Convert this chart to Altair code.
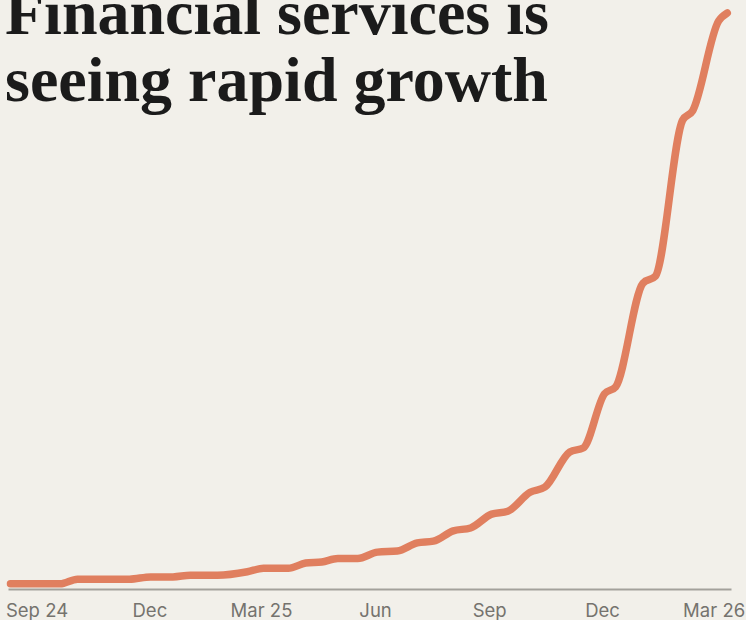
import altair as alt
import pandas as pd

# ---- data ----
dates = ["2024-08-11", "2024-09-20", "2024-10-04", "2024-11-15", "2024-12-02",
         "2024-12-20", "2025-01-03", "2025-01-25", "2025-02-18", "2025-03-03",
         "2025-03-23", "2025-04-06", "2025-04-19", "2025-05-02", "2025-05-18",
         "2025-06-03", "2025-06-19", "2025-07-05", "2025-07-18", "2025-08-03",
         "2025-08-17", "2025-09-03", "2025-09-16", "2025-10-04", "2025-10-16",
         "2025-11-05", "2025-11-16", "2025-12-03", "2025-12-12", "2026-01-03",
         "2026-01-13", "2026-02-04", "2026-02-12", "2026-03-05", "2026-03-12"]
values = [0.9, 0.9, 1.7, 1.7, 2.1,
          2.1, 2.4, 2.4, 3.0, 3.6,
          3.6, 4.5, 4.7, 5.3, 5.3,
          6.4, 6.6, 8.0, 8.3, 10.1,
          10.6, 13.0, 13.5, 16.8, 17.7,
          23.8, 24.5, 33.9, 35.1, 53.1,
          54.3, 81.4, 83.0, 98.6, 100.0]

tick_months = [(2024, 9), (2024, 12), (2025, 3), (2025, 6), (2025, 9), (2025, 12), (2026, 3)]
domain_start = (2024, 8, 9)
domain_end = (2026, 3, 15)
title_lines = ["Financial services is", "seeing rapid growth"]

BG = "#f2f0ea"
LINE = "#e07f5f"

df = pd.DataFrame({"date": dates, "value": values})

x_enc = alt.X(
    "date:T",
    scale=alt.Scale(
        type="utc",
        domain=[alt.DateTime(year=domain_start[0], month=domain_start[1], date=domain_start[2], utc=True),
                alt.DateTime(year=domain_end[0], month=domain_end[1], date=domain_end[2], utc=True)],
    ),
    axis=alt.Axis(
        title=None,
        values=[alt.DateTime(year=y, month=m, date=1, utc=True) for y, m in tick_months],
        labelExpr="(utcmonth(datum.value) == 2 || (utcyear(datum.value) == 2024 && utcmonth(datum.value) == 8)) ? utcFormat(datum.value, '%b %y') : utcFormat(datum.value, '%b')",
        ticks=False,
        grid=False,
        domainColor="#a3a19b",
        domainWidth=2,
        labelFont="Inter",
        labelFontSize=18.5,
        labelColor="#75736e",
        labelPadding=12,
        labelFlush=False,
        labelOverlap=False,
    ),
)

line = alt.Chart(df).mark_line(
    color=LINE,
    strokeWidth=7.5,
    strokeCap="round",
    strokeJoin="round",
    interpolate="monotone",
).encode(
    x=x_enc,
    y=alt.Y("value:Q", scale=alt.Scale(domain=[0, 100], nice=False, zero=True), axis=None),
)

title_df = pd.DataFrame({"t": ["\n".join(title_lines)]})
title = alt.Chart(title_df).mark_text(
    align="left",
    baseline="alphabetic",
    font="Liberation Serif",
    fontWeight="bold",
    fontSize=64,
    lineHeight=67,
    lineBreak="\n",
    color="#1b1b1b",
).encode(
    text="t:N",
    x=alt.value(-3),
    y=alt.value(21),
)

chart = alt.layer(line, title).properties(
    width=723,
    height=576,
    autosize=alt.AutoSizeParams(type="none"),
    padding={"left": 8, "right": 15, "top": 13, "bottom": 31},
    background=BG,
).configure_view(stroke=None)

chart.save("out.html", embed_options={"renderer": "svg", "actions": False})
